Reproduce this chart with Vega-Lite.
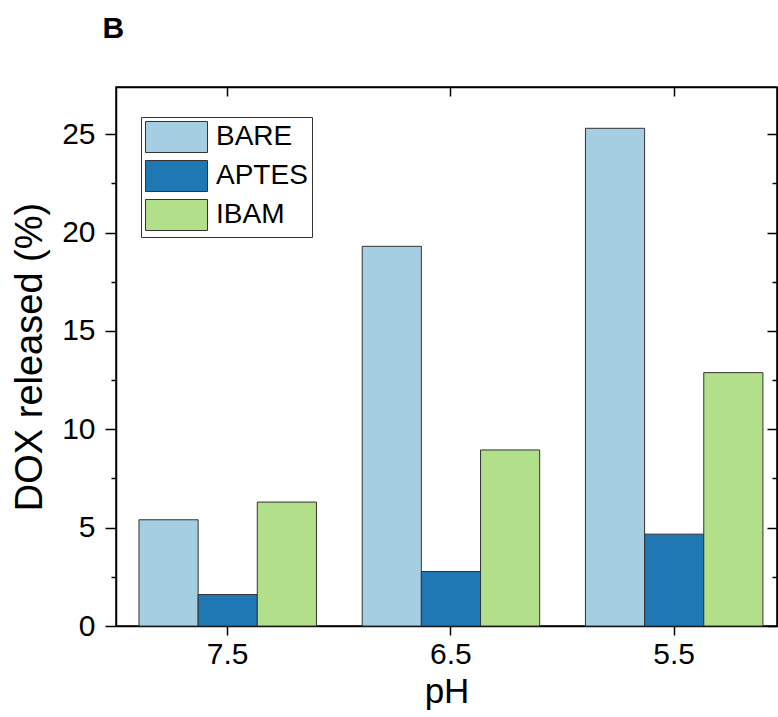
{
  "$schema": "https://vega.github.io/schema/vega-lite/v6.json",
  "autosize": {"type": "none"},
  "width": 661,
  "height": 539,
  "padding": {"left": 116, "top": 87, "right": 1, "bottom": 91},
  "background": "white",
  "config": {
    "font": "Liberation Sans",
    "view": {"stroke": "black", "strokeWidth": 1.5},
    "axis": {"grid": false, "domainColor": "black", "domainWidth": 1.5, "tickColor": "black", "tickWidth": 1.5, "labelColor": "black", "titleColor": "black", "labelFont": "Liberation Sans", "titleFont": "Liberation Sans", "titleFontWeight": "normal"}
  },
  "data": {"values": [
    {"pH": "7.5", "series": "BARE", "value": 5.4},
    {"pH": "7.5", "series": "APTES", "value": 1.6},
    {"pH": "7.5", "series": "IBAM", "value": 6.3},
    {"pH": "6.5", "series": "BARE", "value": 19.3},
    {"pH": "6.5", "series": "APTES", "value": 2.77},
    {"pH": "6.5", "series": "IBAM", "value": 8.95},
    {"pH": "5.5", "series": "BARE", "value": 25.3},
    {"pH": "5.5", "series": "APTES", "value": 4.67},
    {"pH": "5.5", "series": "IBAM", "value": 12.88}
  ]},
  "layer": [
    {
      "mark": {"type": "bar", "stroke": "#333333", "strokeWidth": 1},
      "encoding": {
        "x": {"field": "pH", "type": "nominal", "sort": ["7.5", "6.5", "5.5"],
          "scale": {"paddingInner": 0.205, "paddingOuter": 0.083, "align": 0.62},
          "axis": {"title": "pH", "labelAngle": 0, "labelFontSize": 30, "titleFontSize": 35, "tickSize": 9, "labelPadding": 4, "titlePadding": 5}},
        "xOffset": {"field": "series", "type": "nominal", "sort": ["BARE", "APTES", "IBAM"], "scale": {"paddingInner": 0, "paddingOuter": 0}},
        "y": {"field": "value", "type": "quantitative",
          "scale": {"domain": [0, 27.4], "nice": false, "zero": true},
          "axis": {"title": "DOX released (%)", "values": [0, 2.5, 5, 7.5, 10, 12.5, 15, 17.5, 20, 22.5, 25], "labelExpr": "datum.value % 5 === 0 ? datum.label : ''", "tickSize": {"condition": {"test": "datum.value % 5 === 0", "value": 11}, "value": 5}, "labelFontSize": 30, "titleFontSize": 38, "labelPadding": 10, "titlePadding": 12}},
        "color": {"field": "series", "type": "nominal", "sort": ["BARE", "APTES", "IBAM"],
          "scale": {"domain": ["BARE", "APTES", "IBAM"], "range": ["#a6cee3", "#1f78b4", "#b2df8a"]},
          "legend": {"title": null, "orient": "none", "legendX": 25, "legendY": 30, "labelFontSize": 28, "labelColor": "black", "labelFont": "Liberation Sans", "symbolType": "M-1,-1H3V1H-1Z", "symbolSize": 961, "symbolStrokeColor": "#333333", "symbolStrokeWidth": 1, "symbolOpacity": 1, "fillColor": "white", "strokeColor": "#333333", "padding": 4, "rowPadding": 3, "labelOffset": 39}}
      }
    },
    {
      "mark": {"type": "bar", "opacity": 0},
      "encoding": {
        "x": {"field": "pH", "type": "nominal", "sort": ["7.5", "6.5", "5.5"],
          "axis": {"orient": "top", "labels": false, "title": "B", "titleX": -14, "titleY": -50, "titleAngle": 0, "titleAlign": "left", "titleBaseline": "alphabetic", "titleFontSize": 30, "titleFontWeight": "bold", "tickSize": -9, "domain": true}},
        "y": {"field": "value", "type": "quantitative",
          "axis": {"orient": "right", "values": [0, 2.5, 5, 7.5, 10, 12.5, 15, 17.5, 20, 22.5, 25], "labels": false, "title": null, "tickSize": {"condition": {"test": "datum.value % 5 === 0", "value": -10}, "value": -5}}}
      }
    }
  ],
  "resolve": {"axis": {"x": "independent", "y": "independent"}}
}
